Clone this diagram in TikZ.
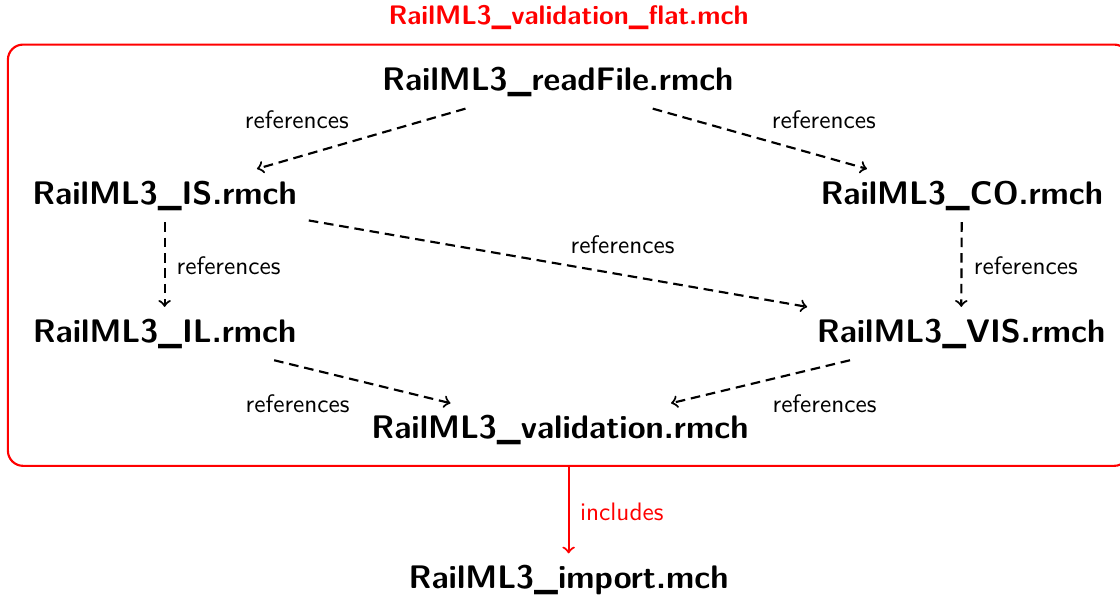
\documentclass[tikz,border=0pt]{standalone}
\usepackage{tikz}

\begin{document}
\begin{tikzpicture}[
    file/.style={font=\sffamily\bfseries\fontsize{12.9}{15}\selectfont, inner sep=4.5pt},
    lbl/.style={font=\sffamily},
    ref/.style={->, line width=0.85pt, dash pattern=on 3.8pt off 2.3pt},
    inc/.style={->, line width=0.85pt, red}]
  \useasboundingbox (0,0) rectangle (15.58,-8.30);
  \node[draw=red, line width=0.85pt, rounded corners=6pt, minimum width=15.6cm, minimum height=5.86cm] (flat) at (7.91,-3.55) {};
  \node[font=\sffamily\bfseries\fontsize{10.6}{13}\selectfont, red] (flattitle) at (7.91,-0.25) {RailML3\_validation\_flat.mch};
  \node[file] (readfile) at (7.76,-1.14) {RailML3\_readFile.rmch};
  \node[file] (is) at (2.29,-2.72) {RailML3\_IS.rmch};
  \node[file] (co) at (13.38,-2.72) {RailML3\_CO.rmch};
  \node[file] (il) at (2.29,-4.64) {RailML3\_IL.rmch};
  \node[file] (vis) at (13.37,-4.64) {RailML3\_VIS.rmch};
  \node[file] (valid) at (7.79,-5.98) {RailML3\_validation.rmch};
  \node[file] (import) at (7.91,-8.07) {RailML3\_import.mch};
  % references
  \draw[ref] (readfile) -- (is);
  \draw[ref] (readfile) -- (co);
  \draw[ref] (is) -- (il);
  \draw[ref] (co) -- (vis);
  \draw[ref] (is) -- (vis);
  \draw[ref] (il) -- (valid);
  \draw[ref] (vis) -- (valid);
  \node[lbl] (l1) at (4.13,-1.67) {references};
  \node[lbl] (l2) at (11.46,-1.67) {references};
  \node[lbl] (l3) at (3.18,-3.70) {references};
  \node[lbl] (l4) at (14.27,-3.70) {references};
  \node[lbl] (l5) at (8.66,-3.41) {references};
  \node[lbl] (l6) at (4.14,-5.62) {references};
  \node[lbl] (l7) at (11.47,-5.62) {references};
  % includes
  \draw[inc] (flat.south -| flattitle) -- (import);
  \node[lbl, red] (l8) at (8.65,-7.12) {includes};
\end{tikzpicture}
\end{document}
